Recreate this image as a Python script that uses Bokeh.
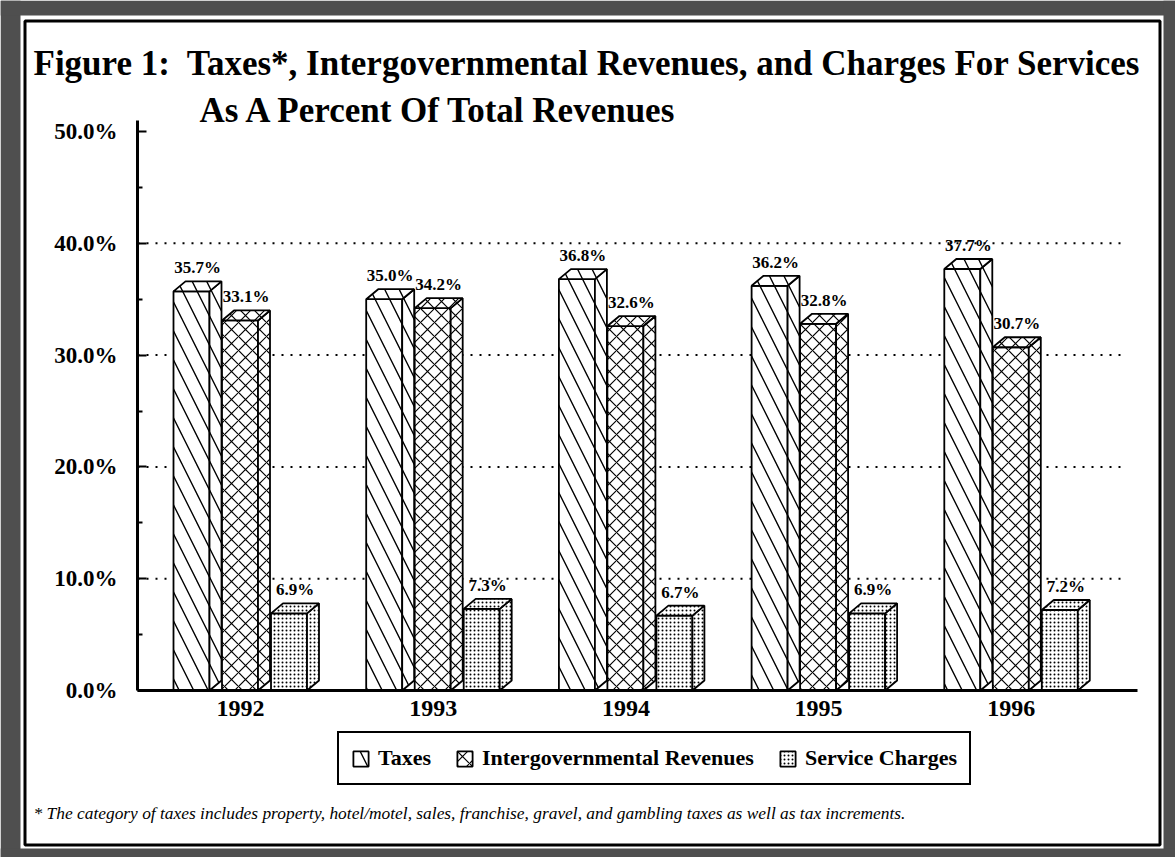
from bokeh.plotting import figure
from bokeh.models import (Range1d, FixedTicker, Label, BoxAnnotation, Legend,
                          LegendItem, ColumnDataSource)
from bokeh.embed import file_html
from bokeh.resources import INLINE
from bokeh.core.properties import value

# ---------------- data ----------------
years = ["1992", "1993", "1994", "1995", "1996"]
taxes = [35.7, 35.0, 36.8, 36.2, 37.7]
intergov = [33.1, 34.2, 32.6, 32.8, 30.7]
service = [6.9, 7.3, 6.7, 6.9, 7.2]
series_names = ["Taxes", "Intergovernmental Revenues", "Service Charges"]
y_ticks = [0, 10, 20, 30, 40, 50]
y_minor = [5, 15, 25, 35, 45]
y_tick_labels = ["0.0%", "10.0%", "20.0%", "30.0%", "40.0%", "50.0%"]
grid_ticks = [10, 20, 30, 40]
title_line1 = "Figure 1:\u00a0 Taxes*, Intergovernmental Revenues, and Charges For Services"
title_line2 = "As A Percent Of Total Revenues"
footnote = ("* The category of taxes includes property, hotel/motel, sales, franchise, "
            "gravel, and gambling taxes as well as tax increments.")

# ---------------- layout ----------------
W, H = 1175, 857
SERIF = "Liberation Serif"
PX_X = 192.7     # px per category step
X0_PX = 240.0    # px of first category centre
PX_Y = 11.18     # px per percent
Y0_PX = 690.0    # px of 0 %


def sy(ypx):          # screen units are measured up from the frame bottom
    return H - ypx


p = figure(width=W, height=H, output_backend="svg", toolbar_location=None, title=None,
           x_range=Range1d(-X0_PX / PX_X, (W - X0_PX) / PX_X),
           y_range=Range1d(-(H - Y0_PX) / PX_Y, Y0_PX / PX_Y),
           min_border=0, min_border_left=0, min_border_right=0,
           min_border_top=0, min_border_bottom=0)
p.outline_line_color = None
p.background_fill_color = "white"
p.border_fill_color = "white"

x_left = (137 - X0_PX) / PX_X     # chart's left edge (y axis)
x_right = (1137 - X0_PX) / PX_X   # end of base line
x_grid_end = (1126 - X0_PX) / PX_X

# ---------------- grid lines ----------------
p.xgrid.visible = False
p.ygrid.visible = False
p.segment(x0=[x_left] * len(grid_ticks), x1=[x_grid_end] * len(grid_ticks),
          y0=grid_ticks, y1=grid_ticks, line_color="black", line_width=2,
          line_dash="2 7")

# ---------------- bars (3D look) ----------------
offsets = [-67 / PX_X, -18.5 / PX_X, 30.5 / PX_X]
bw = 36 / PX_X
dx = 12 / PX_X
dy = 10 / PX_Y
styles = [dict(hatch_pattern="\\", hatch_scale=29, hatch_weight=1.4),
          dict(hatch_pattern="x", hatch_scale=14, hatch_weight=1.2),
          dict(hatch_pattern=".", hatch_scale=4, hatch_weight=1.0)]

renderers = []
for k, vals in enumerate([taxes, intergov, service]):
    idx = list(range(len(years)))
    left = [i + offsets[k] for i in idx]
    right = [l + bw for l in left]
    src = ColumnDataSource(dict(left=left, right=right, top=vals, bottom=[0] * len(vals)))
    common = dict(fill_color="white", line_color="black", line_width=1.8,
                  hatch_color="black", **styles[k])
    r = p.quad(left="left", right="right", top="top", bottom="bottom", source=src, **common)
    renderers.append(r)
    side_xs = [[rr, rr + dx, rr + dx, rr] for rr in right]
    side_ys = [[0, dy, v + dy, v] for v in vals]
    p.patches(side_xs, side_ys, **common)
    top_xs = [[l, l + dx, rr + dx, rr] for l, rr in zip(left, right)]
    top_ys = [[v, v + dy, v + dy, v] for v in vals]
    p.patches(top_xs, top_ys, **common)
    p.text(x=[l + (bw + dx) / 2 for l in left], y=[v + dy for v in vals],
           text=[f"{v:.1f}%" for v in vals], text_font=value(SERIF),
           text_font_style="bold", text_font_size="17px", text_color="black",
           text_align="center", text_baseline="bottom", y_offset=-4)

# ---------------- axes (fixed inside the frame) ----------------
p.yaxis.fixed_location = x_left
p.yaxis.bounds = (0, 51)
p.yaxis.ticker = FixedTicker(ticks=y_ticks, minor_ticks=y_minor)
p.yaxis.major_label_overrides = {t: s for t, s in zip(y_ticks, y_tick_labels)}
p.yaxis.major_tick_in = 9
p.yaxis.major_tick_out = 0
p.yaxis.minor_tick_in = 5
p.yaxis.minor_tick_out = 0
p.yaxis.major_tick_line_width = 2
p.yaxis.minor_tick_line_width = 2
p.yaxis.axis_line_width = 3
p.yaxis.major_label_standoff = 20
p.yaxis.major_label_text_font = SERIF
p.yaxis.major_label_text_font_style = "bold"
p.yaxis.major_label_text_font_size = "23px"
p.yaxis.major_label_text_color = "black"

p.xaxis.fixed_location = 0
p.xaxis.bounds = (x_left, x_right)
p.xaxis.ticker = FixedTicker(ticks=list(range(len(years))))
p.xaxis.major_label_overrides = {i: y for i, y in enumerate(years)}
p.xaxis.major_tick_in = 0
p.xaxis.major_tick_out = 0
p.xaxis.minor_tick_line_color = None
p.xaxis.axis_line_width = 3
p.xaxis.major_label_standoff = 10
p.xaxis.major_label_text_font = SERIF
p.xaxis.major_label_text_font_style = "bold"
p.xaxis.major_label_text_font_size = "24px"
p.xaxis.major_label_text_color = "black"

# ---------------- legend ----------------
legend = Legend(items=[LegendItem(label=n, renderers=[r]) for n, r in zip(series_names, renderers)],
                location=(337, sy(785)), orientation="horizontal",
                border_line_color="black", border_line_width=2, border_line_alpha=1,
                padding=12, spacing=24, margin=0,
                label_text_font=SERIF, label_text_font_style="bold",
                label_text_font_size="22px", label_text_color="black", label_standoff=8,
                glyph_width=19, glyph_height=19, background_fill_color="white",
                background_fill_alpha=1)
p.add_layout(legend)

# ---------------- texts ----------------
p.add_layout(Label(x=33, y=sy(63), x_units="screen", y_units="screen", text=title_line1,
                   text_font=SERIF, text_font_style="bold", text_font_size="35px",
                   text_baseline="alphabetic", text_color="black"))
p.add_layout(Label(x=199, y=sy(110), x_units="screen", y_units="screen", text=title_line2,
                   text_font=SERIF, text_font_style="bold", text_font_size="35px",
                   text_baseline="alphabetic", text_color="black"))
p.add_layout(Label(x=33, y=sy(812), x_units="screen", y_units="screen", text=footnote,
                   text_font=SERIF, text_font_style="italic", text_font_size="17.4px",
                   text_baseline="middle", text_color="black"))

# ---------------- page border ----------------
dark = "#4f4f4f"
for (l, r_, t, b) in [(0, 20, 0, H), (0, W, 0, 15), (1163, W, 0, H), (0, W, 848, H)]:
    p.add_layout(BoxAnnotation(left=l, right=r_, top=sy(t), bottom=sy(b),
                               left_units="screen", right_units="screen",
                               top_units="screen", bottom_units="screen",
                               fill_color=dark, fill_alpha=1, line_alpha=0))
p.add_layout(BoxAnnotation(left=24.5, right=1159.5, top=sy(20.5), bottom=sy(844.5),
                           left_units="screen", right_units="screen",
                           top_units="screen", bottom_units="screen",
                           fill_alpha=0, line_color="black", line_width=3, line_alpha=1))

open("out.html", "w").write(file_html(p, INLINE))
